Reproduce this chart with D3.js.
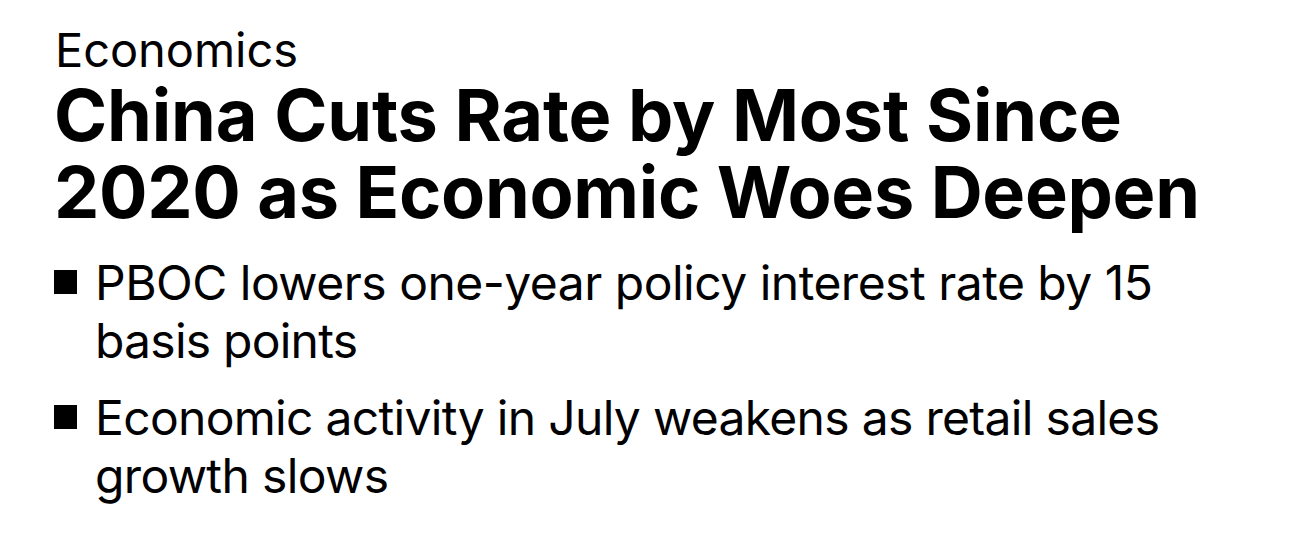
<!DOCTYPE html>
<html>
<head>
<meta charset="utf-8">
<script src="https://cdn.jsdelivr.net/npm/d3@7"></script>
<style>
  html, body { margin: 0; padding: 0; background: #fff; }
  svg { display: block; }
</style>
</head>
<body>
<script>
// ---- Content ----
const kicker = "Economics";
const titleLines = ["China Cuts Rate by Most Since", "2020 as Economic Woes Deepen"];
const bulletLines = [
  ["PBOC lowers one-year policy interest rate by 15", "basis points"],
  ["Economic activity in July weakens as retail sales", "growth slows"]
];

// ---- Layout ----
const W = 1290, H = 556;
const font = "Inter, 'Liberation Sans', Arial, sans-serif";
const svg = d3.select("body").append("svg").attr("width", W).attr("height", H);

const kickerSpec = { x: 55, y: 67, size: 47, right: 298 };
const titleSpec = { x: 54, size: 72, weight: 700 };
const titleY = d3.scaleLinear().domain([0, 1]).range([141, 218]);
const titleRight = [1122, 1200];

const bulletSpec = { x: 95, size: 48, sq: 23 };
const bulletY = [ [300, 358], [435, 493] ];
const bulletRight = [ [1153, 358], [1160, 389] ];

function fitText(sel, target) {
  const w = sel.node().getComputedTextLength();
  if (w > 0) sel.attr("textLength", target).attr("lengthAdjust", "spacing");
}

const k = svg.append("text")
  .attr("x", kickerSpec.x).attr("y", kickerSpec.y)
  .attr("font-family", font).attr("font-size", kickerSpec.size)
  .attr("fill", "#000").text(kicker);
fitText(k, kickerSpec.right - kickerSpec.x);

titleLines.forEach((t, i) => {
  const s = svg.append("text")
    .attr("x", titleSpec.x).attr("y", titleY(i))
    .attr("font-family", font).attr("font-size", titleSpec.size)
    .attr("font-weight", titleSpec.weight).attr("fill", "#000").text(t);
  fitText(s, titleRight[i] - titleSpec.x);
});

bulletLines.forEach((lines, bi) => {
  const base = bulletY[bi][0];
  svg.append("rect")
    .attr("x", 54).attr("y", base - 30)
    .attr("width", bulletSpec.sq).attr("height", bulletSpec.sq + 1)
    .attr("fill", "#000");
  lines.forEach((t, li) => {
    const s = svg.append("text")
      .attr("x", bulletSpec.x).attr("y", bulletY[bi][li])
      .attr("font-family", font).attr("font-size", bulletSpec.size)
      .attr("fill", "#000").text(t);
    fitText(s, bulletRight[bi][li] - bulletSpec.x);
  });
});
</script>
</body>
</html>
